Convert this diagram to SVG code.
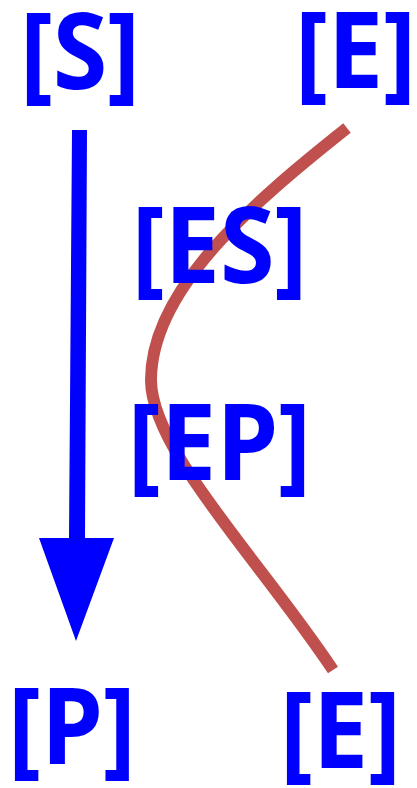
<svg xmlns="http://www.w3.org/2000/svg" width="417" height="788" viewBox="0 0 417 788">
<style>
.lbl{font-family:"Open Sans","Noto Sans","Liberation Sans",sans-serif;font-weight:bold;font-size:106px;fill:#0000FF;text-anchor:middle}
.curve{fill:none;stroke:#C0504D;stroke-width:12;stroke-linecap:butt}
.arrow{fill:#0000FF;stroke:none}
</style>
<rect width="417" height="788" fill="#FFFFFF"/>
<g id="connectors">
<path class="curve" d="M347,128 C250,205 151,290 151,380 C151,450 260,560 333,670"/>
<polygon class="arrow" points="72,130 87,130 85,538 114,538 76,641 39,538 69,538"/>
</g>
<g id="node-S"><text class="lbl" transform="translate(80,89) scale(0.935,1)">[S]</text></g>
<g id="node-E-top"><text class="lbl" transform="translate(355.5,88) scale(0.935,1)">[E]</text></g>
<g id="node-ES"><text class="lbl" transform="translate(219.5,283) scale(0.935,1)">[ES]</text></g>
<g id="node-EP"><text class="lbl" transform="translate(219.5,480) scale(0.935,1)">[EP]</text></g>
<g id="node-P"><text class="lbl" transform="translate(72,764) scale(0.935,1)">[P]</text></g>
<g id="node-E-bottom"><text class="lbl" transform="translate(340.5,768) scale(0.935,1)">[E]</text></g>
</svg>
